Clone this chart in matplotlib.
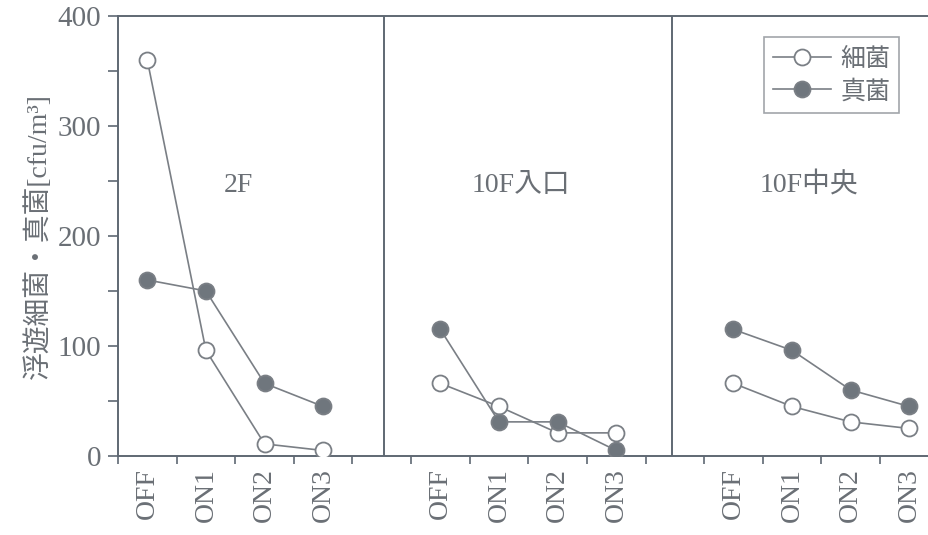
import matplotlib
matplotlib.use("Agg")
import matplotlib.pyplot as plt
import numpy as np

plt.rcParams['font.family'] = ['Liberation Serif', 'Noto Sans CJK JP', 'DejaVu Sans']

conditions = ["OFF", "ON1", "ON2", "ON3"]
locations = ["2F", "10F入口", "10F中央"]
bacteria = [
    [360, 96, 11, 5],
    [66, 45, 21, 21],
    [66, 45, 31, 25],
]
fungi = [
    [160, 150, 66, 45],
    [115, 31, 31, 5],
    [115, 96, 60, 45],
]
series_labels = ["細菌", "真菌"]
ylabel = "浮遊細菌・真菌[cfu/m³]"

axis_col = "#5f6873"
text_col = "#6a6f75"
line_col = "#7a7f85"
fill_col = "#6f767d"

fig = plt.figure(figsize=(9.29, 5.35), dpi=100)
ax = fig.add_axes([0.127, 0.1477, 0.872, 0.8225])

offsets = [0, 5, 10]
divs = [4.03, 8.95]
h = []
for i, off in enumerate(offsets):
    x = np.arange(4) + off
    hb, = ax.plot(x, bacteria[i], '-o', color=line_col, lw=1.2, ms=11.5,
                  mfc='white', mec=line_col, mew=1.3, zorder=3)
    hf, = ax.plot(x, fungi[i], '-o', color=line_col, lw=1.2, ms=11.5,
                  mfc=fill_col, mec=line_col, mew=1.3, zorder=3)
    h = [hb, hf]

for d in divs:
    ax.axvline(d, color=axis_col, lw=1.4, zorder=2)

label_pos = [(1.55, 246), (6.37, 246), (11.28, 246)]
for (lx, ly), name in zip(label_pos, locations):
    ax.text(lx, ly, name, ha='center', va='center', fontsize=20, color=text_col,
            family=['Liberation Serif', 'Noto Sans CJK JP'])

ax.set_xlim(-0.48, 13.32)
ax.set_ylim(0, 400)

major_x = np.concatenate([np.arange(4) + o for o in offsets])
cat_labels = conditions * 3
ax.set_xticks(major_x)
ax.set_xticklabels(cat_labels, rotation=90, fontsize=20, color=text_col)
ax.tick_params(axis='x', which='major', length=0, pad=9)
minor_x = [-0.5, 0.5, 1.5, 2.5, 3.5, 4.5, 5.5, 6.5, 7.5, 8.5, 9.5, 10.5, 11.5, 12.5]
ax.set_xticks(minor_x, minor=True)
ax.tick_params(axis='x', which='minor', length=6, width=1.2, color=axis_col, direction='out')

ax.set_yticks([0, 100, 200, 300, 400])
ax.set_yticklabels(["0", "100", "200", "300", "400"], fontsize=21, color=text_col)
ax.set_yticks([50, 150, 250, 350], minor=True)
ax.tick_params(axis='y', which='both', length=7, width=1.2, color=axis_col, direction='out', pad=5)

ax.set_ylabel(ylabel, fontsize=20, color=text_col,
              family=['Liberation Serif', 'Noto Sans CJK JP', 'DejaVu Sans'], labelpad=4)

for s in ['left', 'bottom', 'top']:
    ax.spines[s].set_color(axis_col)
    ax.spines[s].set_linewidth(1.4)
ax.spines['right'].set_visible(False)

leg = ax.legend(h, series_labels, loc='upper right', bbox_to_anchor=(0.98, 0.98),
                prop={'family': ['Noto Sans CJK JP'], 'size': 18},
                frameon=True, fancybox=False, edgecolor="#8a8f95", handlelength=2.3,
                borderpad=0.35, labelspacing=0.25, handletextpad=0.4)
for t in leg.get_texts():
    t.set_color(text_col)
leg.get_frame().set_linewidth(1.2)

fig.savefig("out.png", dpi=100)
